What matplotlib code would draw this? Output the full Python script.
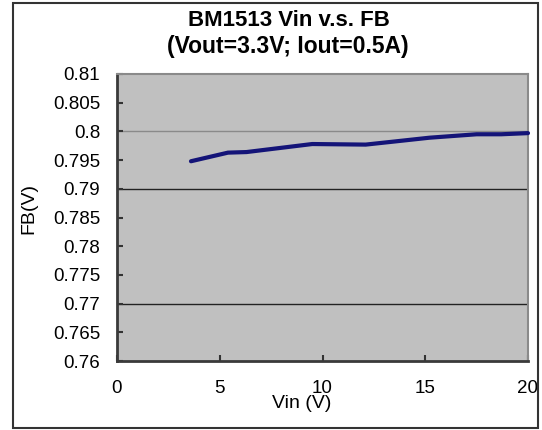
import matplotlib
matplotlib.use("Agg")
import matplotlib.pyplot as plt
from matplotlib.patches import Rectangle

plt.rcParams['font.family'] = ['Liberation Sans', 'DejaVu Sans']

vin = [3.6, 5.4, 6.3, 9.5, 12.1, 13.4, 15.2, 17.5, 18.7, 20.0]
fb = [0.7948, 0.7963, 0.7964, 0.7978, 0.7977, 0.7982, 0.7989, 0.7995, 0.7995, 0.7997]
yticks = [0.76, 0.765, 0.77, 0.775, 0.78, 0.785, 0.79, 0.795, 0.8, 0.805, 0.81]
ytick_labels = ['0.76', '0.765', '0.77', '0.775', '0.78', '0.785', '0.79', '0.795', '0.8', '0.805', '0.81']
xticks = [0, 5, 10, 15, 20]
grid_dark = [0.79, 0.77]
grid_light = [0.8]

W, H = 542, 430
fig = plt.figure(figsize=(W / 100, H / 100), dpi=100)
fig.patch.set_facecolor('white')

# outer border
fig.add_artist(Rectangle((13 / W, 1 - 428 / H), (538 - 13) / W, (428 - 3) / H,
                         transform=fig.transFigure, fill=False, edgecolor='#333333', lw=1.5))

ax = fig.add_axes([117 / W, 1 - 361 / H, (528 - 117) / W, (361 - 74) / H])
ax.set_facecolor('#c0c0c0')
ax.set_xlim(0, 20)
ax.set_ylim(0.76, 0.81)

for g in grid_dark:
    ax.axhline(g, color='#222222', lw=1.0, zorder=1)
for g in grid_light:
    ax.axhline(g, color='#8a8a8a', lw=1.0, zorder=1)

ax.plot(vin, fb, color='#141478', lw=3.0, solid_capstyle='round',
        solid_joinstyle='round', zorder=3, clip_on=False)

ax.set_yticks(yticks)
ax.set_yticklabels(ytick_labels)
ax.set_xticks(xticks)
ax.tick_params(direction='in', length=4, width=1.5, color='#333333', labelsize=13.5,
               labelcolor='black')
ax.tick_params(axis='y', pad=12)
ax.tick_params(axis='x', pad=14)

for s in ['left', 'bottom']:
    ax.spines[s].set_color('#3a3a3a')
    ax.spines[s].set_linewidth(2.0)
for s in ['top', 'right']:
    ax.spines[s].set_color('#8a8a8a')
    ax.spines[s].set_linewidth(1.5)

fig.text(289 / W, 1 - 20 / H, 'BM1513 Vin v.s. FB', ha='center', va='center',
         fontsize=16, fontweight='bold')
fig.text(288 / W, 1 - 47 / H, '(Vout=3.3V; Iout=0.5A)', ha='center', va='center',
         fontsize=16.5, fontweight='bold')
fig.text(302 / W, 1 - 404 / H, 'Vin (V)', ha='center', va='center', fontsize=14)
fig.text(29 / W, 1 - 208 / H, 'FB(V)', ha='center', va='center', fontsize=14, rotation=90)

fig.savefig('out.png', dpi=100)
